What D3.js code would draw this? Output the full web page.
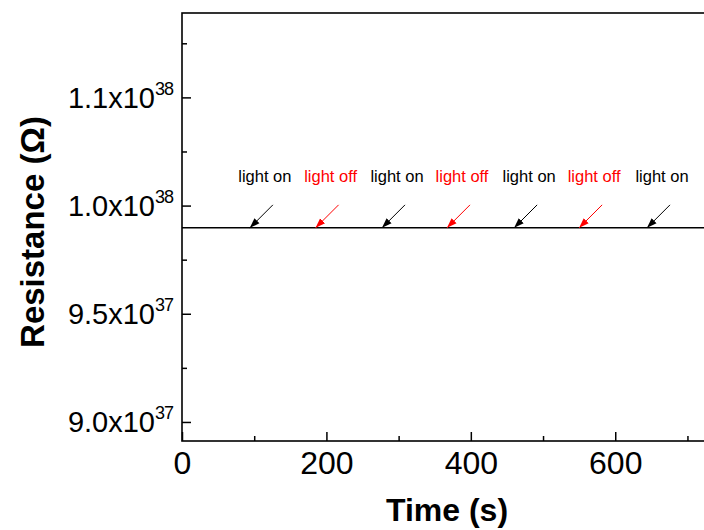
<!DOCTYPE html>
<html>
<head>
<meta charset="utf-8">
<script src="https://cdn.jsdelivr.net/npm/d3@7"></script>
<style>
  html, body { margin: 0; padding: 0; background: #ffffff; overflow: hidden; }
  svg { display: block; font-family: Arial, "Liberation Sans", sans-serif; }
</style>
</head>
<body>
<div id="chart"></div>
<script>
// Data
const timeValues = [0, 734];
const resistanceValues = [0.9897e38, 0.9897e38];

const yTickValues = [0.90e38, 0.95e38, 1.00e38, 1.05e38];
const yTickMantissa = ['9.0', '9.5', '1.0', '1.1'];
const yTickExponent = ['37', '37', '38', '38'];
const yMinorTicks = [0.925e38, 0.975e38, 1.025e38, 1.075e38];

const xTickValues = [0, 200, 400, 600];
const xMinorTicks = [100, 300, 500, 700];

const eventTimes = [94, 185, 277, 367, 460, 550, 644];
const eventLabels = ['light on', 'light off', 'light on', 'light off', 'light on', 'light off', 'light on'];
const eventColors = ['#000000', '#ff0000', '#000000', '#ff0000', '#000000', '#ff0000', '#000000'];

// Layout
const W = 704, H = 530;
const margin = { top: 13, left: 182 };
const plotW = 530, plotH = 428;

const svg = d3.select('#chart').append('svg')
  .attr('width', W)
  .attr('height', H);

const defs = svg.append('defs');
['#000000', '#ff0000'].forEach((c, i) => {
  defs.append('marker')
    .attr('id', 'head' + i)
    .attr('viewBox', '0 0 10 10')
    .attr('refX', 10)
    .attr('refY', 5)
    .attr('markerWidth', 10)
    .attr('markerHeight', 10)
    .attr('markerUnits', 'userSpaceOnUse')
    .attr('orient', 'auto')
    .append('path')
    .attr('d', 'M0,1.5 L10,5 L0,8.5 Z')
    .attr('fill', c);
});

const x = d3.scaleLinear().domain([0, 734]).range([0, plotW]);
const y = d3.scaleLinear().domain([0.8912e38, 1.089e38]).range([plotH, 0]);

const g = svg.append('g')
  .attr('transform', `translate(${margin.left},${margin.top})`);

// Data line
g.append('path')
  .datum(timeValues.map((t, i) => [t, resistanceValues[i]]))
  .attr('fill', 'none')
  .attr('stroke', '#000')
  .attr('stroke-width', 1.5)
  .attr('d', d3.line().x(d => x(d[0])).y(d => y(d[1])));

// Frame (top + left + bottom visible; right is beyond the window)
g.append('rect')
  .attr('x', 0).attr('y', 0)
  .attr('width', plotW).attr('height', plotH)
  .attr('fill', 'none')
  .attr('stroke', '#000')
  .attr('stroke-width', 1.6);

// X axis ticks (inward)
const xAxis = g.append('g')
  .attr('class', 'x-axis')
  .attr('transform', `translate(0,${plotH})`)
  .call(d3.axisBottom(x).tickValues(xTickValues).tickSize(-9).tickPadding(10).tickFormat(d3.format('d')));
xAxis.select('.domain').remove();
xAxis.selectAll('.tick line').attr('stroke-width', 1.5);
xAxis.selectAll('.tick text')
  .attr('font-size', 32)
  .attr('fill', '#000')
  .attr('font-family', 'Arial, "Liberation Sans", sans-serif');

const xMinor = g.append('g')
  .attr('transform', `translate(0,${plotH})`)
  .call(d3.axisBottom(x).tickValues(xMinorTicks).tickSize(-5).tickFormat(''));
xMinor.select('.domain').remove();
xMinor.selectAll('.tick line').attr('stroke-width', 1.5);

// Y axis ticks (inward)
const yAxis = g.append('g')
  .attr('class', 'y-axis')
  .call(d3.axisLeft(y).tickValues(yTickValues).tickSize(-9).tickFormat(''));
yAxis.select('.domain').remove();
yAxis.selectAll('.tick line').attr('stroke-width', 1.5);

const yMinor = g.append('g')
  .call(d3.axisLeft(y).tickValues(yMinorTicks).tickSize(-5).tickFormat(''));
yMinor.select('.domain').remove();
yMinor.selectAll('.tick line').attr('stroke-width', 1.5);

// Y tick labels with superscript exponents
const yLabels = g.append('g').selectAll('text')
  .data(yTickValues)
  .enter()
  .append('text')
  .attr('x', -9)
  .attr('y', d => y(d) + 10.5)
  .attr('text-anchor', 'end')
  .attr('fill', '#000');
yLabels.append('tspan')
  .attr('font-size', 29)
  .text((d, i) => yTickMantissa[i] + 'x10');
yLabels.append('tspan')
  .attr('font-size', 18)
  .attr('dy', -13)
  .attr('letter-spacing', -1)
  .text((d, i) => yTickExponent[i]);

// Axis titles
svg.append('text')
  .attr('x', 447)
  .attr('y', 521)
  .attr('text-anchor', 'middle')
  .attr('font-size', 32)
  .attr('font-weight', 'bold')
  .attr('fill', '#000')
  .text('Time (s)');

svg.append('text')
  .attr('transform', `translate(44,${margin.top + plotH / 2 + 5}) rotate(-90)`)
  .attr('text-anchor', 'middle')
  .attr('font-size', 33)
  .attr('font-weight', 'bold')
  .attr('fill', '#000')
  .text('Resistance (Ω)');

// Light on / off annotations
const ev = g.append('g').selectAll('g')
  .data(eventTimes)
  .enter()
  .append('g');

ev.append('line')
  .attr('x1', d => x(d) + 23)
  .attr('y1', y(resistanceValues[0]) - 23)
  .attr('x2', d => x(d))
  .attr('y2', y(resistanceValues[0]))
  .attr('stroke', (d, i) => eventColors[i])
  .attr('stroke-width', 1)
  .attr('marker-end', (d, i) => eventColors[i] === '#ff0000' ? 'url(#head1)' : 'url(#head0)');

ev.append('text')
  .attr('x', d => x(d) + 15)
  .attr('y', 182 - margin.top)
  .attr('text-anchor', 'middle')
  .attr('font-size', 16.5)
  .attr('fill', (d, i) => eventColors[i])
  .text((d, i) => eventLabels[i]);
</script>
</body>
</html>
